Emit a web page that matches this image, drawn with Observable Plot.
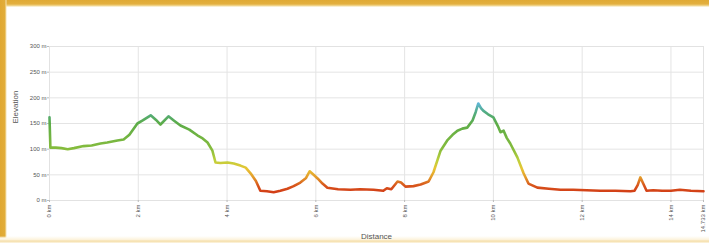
<!DOCTYPE html>
<html>
<head>
<meta charset="utf-8">
<script src="https://cdn.jsdelivr.net/npm/d3@7"></script>
<script src="https://cdn.jsdelivr.net/npm/@observablehq/plot@0.6"></script>
<style>
  html, body { margin: 0; padding: 0; background: #fff; }
  #wrap { position: relative; width: 709px; height: 243px; overflow: hidden; background: #fff; }
  #wrap svg { position: absolute; left: 0; top: 0; }
  .bTop { position: absolute; left: 0; top: 0; width: 709px; height: 7px;
          background: linear-gradient(#e0aa34 0, #e3b040 4px, #f3dc9c 6px, #fff 7px); }
  .bLeft { position: absolute; left: 0; top: 0; width: 7px; height: 243px;
           background: linear-gradient(90deg, #e0a832 0, #e2ad3a 5px, #f5e2b0 6px, rgba(255,255,255,0) 7px); }
  .bBot { position: absolute; left: 0; top: 236px; width: 709px; height: 7px;
          background: linear-gradient(rgba(255,255,255,0) 0, #fef9ec 2px, #fcf1d8 4px, #f4dca4 5px, #f8e9c4 6px, #fdf6e6 7px); }
</style>
</head>
<body>
<div id="wrap"></div>
<script>
// Distance along route (km) and elevation (m)
const distanceKm = [0, 0.02, 0.14, 0.27, 0.41, 0.55, 0.77, 0.95, 1.15, 1.3, 1.53, 1.67, 1.8, 1.98, 2.10, 2.28, 2.40, 2.50, 2.68, 2.80, 2.95, 3.15, 3.33, 3.45, 3.56, 3.67, 3.74, 3.85, 4.01, 4.15, 4.30, 4.42, 4.53, 4.65, 4.75, 4.90, 5.05, 5.20, 5.36, 5.50, 5.65, 5.78, 5.86, 5.95, 6.04, 6.15, 6.26, 6.50, 6.78, 7.0, 7.30, 7.52, 7.60, 7.70, 7.84, 7.92, 8.02, 8.20, 8.36, 8.54, 8.65, 8.81, 8.96, 9.08, 9.19, 9.30, 9.41, 9.53, 9.60, 9.66, 9.72, 9.77, 9.88, 10.0, 10.10, 10.16, 10.23, 10.30, 10.38, 10.54, 10.68, 10.79, 10.99, 11.25, 11.51, 11.80, 12.10, 12.41, 12.75, 13.09, 13.18, 13.25, 13.31, 13.38, 13.45, 13.60, 13.80, 14.0, 14.20, 14.45, 14.733];
const elevationM = [162, 103, 103, 102, 100, 102, 106, 107, 111, 113, 117, 119, 128, 150, 156, 166, 157, 148, 164, 156, 146, 138, 127, 121, 113, 97, 74, 73, 74, 72, 68, 64, 53, 38, 19, 18, 16, 19, 23, 28, 35, 44, 57, 50, 43, 33, 25, 22, 21, 22, 21, 19, 24, 22, 37, 35, 27, 28, 31, 37, 55, 97, 117, 128, 136, 140, 142, 156, 172, 189, 180, 175, 168, 162, 145, 133, 136, 122, 111, 84, 53, 33, 25, 23, 21, 21, 20, 19, 19, 18, 19, 30, 45, 32, 19, 20, 19, 19, 21, 19, 18];

// Axis ticks
const xTicks = [0, 2, 4, 6, 8, 10, 12, 14, 14.733];
const xTickLabels = ["0 km", "2 km", "4 km", "6 km", "8 km", "10 km", "12 km", "14 km", "14.733 km"];
const yTicks = [0, 50, 100, 150, 200, 250, 300];
const yTickLabels = ["0 m", "50 m", "100 m", "150 m", "200 m", "250 m", "300 m"];

// Elevation colour ramp (elevation stops -> colours)
const rampElev = [15, 30, 45, 62, 78, 100, 150, 172, 192];
const rampColor = ["#d23c16", "#d8561c", "#e39a2a", "#e8c434", "#bdd03c", "#86bc3c", "#5cac48", "#52ac84", "#62b8e2"];

const data = distanceKm.map((d, i) => ({km: d, m: elevationM[i]}));

const plot = Plot.plot({
  width: 709,
  height: 243,
  marginLeft: 49,
  marginRight: 6,
  marginTop: 46,
  marginBottom: 43,
  style: {fontFamily: "Liberation Sans, Arial, sans-serif", background: "transparent", overflow: "visible"},
  x: {domain: [0, 14.733]},
  y: {domain: [0, 300]},
  marks: [
    Plot.gridX(xTicks, {stroke: "#e4e4e4", strokeOpacity: 1, strokeWidth: 1}),
    Plot.gridY(yTicks, {stroke: "#e4e4e4", strokeOpacity: 1, strokeWidth: 1}),
    Plot.frame({stroke: "#e2e2e2"}),
    Plot.axisX({
      ticks: xTicks,
      tickFormat: (d, i) => xTickLabels[i],
      tickRotate: -90,
      tickSize: 2,
      tickPadding: 2,
      fontSize: 6,
      color: "#555",
      stroke: "#bbb",
      label: null
    }),
    Plot.axisY({
      ticks: yTicks,
      tickFormat: (d, i) => yTickLabels[i],
      tickSize: 2,
      tickPadding: 1,
      fontSize: 6,
      color: "#555",
      stroke: "#bbb",
      label: null
    }),
    Plot.text(["Elevation"], {frameAnchor: "left", dx: -34, rotate: -90, fontSize: 8, fill: "#555"}),
    Plot.text(["Distance"], {frameAnchor: "bottom", dy: 38, fontSize: 8, fill: "#555"}),
    Plot.line(data, {x: "km", y: "m", stroke: "url(#elevGrad)", strokeWidth: 2.6, strokeLinejoin: "round", strokeLinecap: "round"})
  ]
});

// Gradient positioned through the plot's own y scale
const ys = plot.scale("y");
const y1 = ys.apply(rampElev[rampElev.length - 1]);
const y2 = ys.apply(rampElev[0]);
const ns = "http://www.w3.org/2000/svg";
const defs = document.createElementNS(ns, "defs");
const grad = document.createElementNS(ns, "linearGradient");
grad.setAttribute("id", "elevGrad");
grad.setAttribute("gradientUnits", "userSpaceOnUse");
grad.setAttribute("x1", 0); grad.setAttribute("x2", 0);
grad.setAttribute("y1", y2); grad.setAttribute("y2", y1);
rampElev.forEach((e, i) => {
  const s = document.createElementNS(ns, "stop");
  s.setAttribute("offset", (ys.apply(e) - y2) / (y1 - y2));
  s.setAttribute("stop-color", rampColor[i]);
  grad.appendChild(s);
});
defs.appendChild(grad);
plot.insertBefore(defs, plot.firstChild);

const wrap = document.getElementById("wrap");
["bTop", "bLeft", "bBot"].forEach(c => { const d = document.createElement("div"); d.className = c; wrap.appendChild(d); });
wrap.appendChild(plot);
</script>
</body>
</html>
